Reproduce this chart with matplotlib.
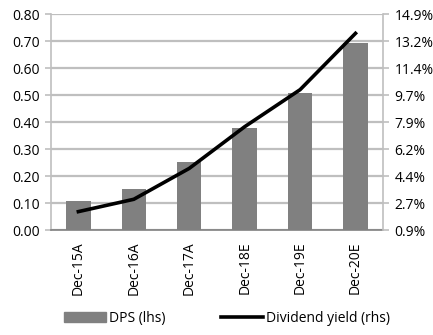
import numpy as np
import matplotlib
matplotlib.use("Agg")
import matplotlib.pyplot as plt
from matplotlib.lines import Line2D
from matplotlib.patches import Patch

plt.rcParams['font.family'] = ['Open Sans', 'DejaVu Sans']

# DPS (lhs) and dividend yield (rhs), by year
years = ['Dec-15A', 'Dec-16A', 'Dec-17A', 'Dec-18E', 'Dec-19E', 'Dec-20E']
dps = [0.108, 0.153, 0.253, 0.380, 0.508, 0.694]
div_yield = [2.1, 2.9, 4.9, 7.6, 10.0, 13.65]

left_ticks = [0.0, 0.1, 0.2, 0.3, 0.4, 0.5, 0.6, 0.7, 0.8]
right_ticks = [0.9, 2.65, 4.4, 6.15, 7.9, 9.65, 11.4, 13.15, 14.9]
right_labels = ['0.9%', '2.7%', '4.4%', '6.2%', '7.9%', '9.7%', '11.4%', '13.2%', '14.9%']

grey = '#808080'
grid_col = '#bfbfbf'

fig = plt.figure(figsize=(4.33, 3.35), dpi=100)
ax = fig.add_axes([0.117, 0.313, 0.768, 0.645])
x = np.arange(len(years))

ax.bar(x, dps, width=0.44, color=grey, zorder=2)
ax.set_ylim(0, 0.8)
ax.set_xlim(-0.5, len(years) - 0.5)
ax.set_yticks(left_ticks)
ax.set_yticklabels(['%.2f' % t for t in left_ticks])
ax.yaxis.grid(True, color=grid_col, linewidth=1.6, zorder=0)
ax.set_axisbelow(True)
ax.set_xticks(x)
ax.set_xticklabels(years, rotation=90)
ax.tick_params(axis='x', length=0, pad=8, labelsize=10)
ax.tick_params(axis='y', length=4, color=grid_col, width=1.2, labelsize=10, pad=4)

for s in ['top', 'right']:
    ax.spines[s].set_visible(False)
ax.spines['left'].set_color(grid_col)
ax.spines['left'].set_linewidth(1.2)
ax.spines['bottom'].set_color(grey)
ax.spines['bottom'].set_linewidth(1.2)

ax2 = ax.twinx()
ax2.plot(x, div_yield, color='black', linewidth=2.6, zorder=3)
ax2.set_ylim(0.9, 14.9)
ax2.set_yticks(right_ticks)
ax2.set_yticklabels(right_labels)
ax2.tick_params(axis='y', length=4, color=grid_col, width=1.2, labelsize=10, pad=4)
for s in ['top', 'left', 'bottom']:
    ax2.spines[s].set_visible(False)
ax2.spines['right'].set_color(grid_col)
ax2.spines['right'].set_linewidth(1.2)

handles = [Patch(color=grey), Line2D([0], [0], color='black', linewidth=2.6)]
fig.legend(handles, ['DPS (lhs)', 'Dividend yield (rhs)'], loc='lower center',
           bbox_to_anchor=(0.525, -0.01), ncol=2, frameon=False, fontsize=10,
           handlelength=3.0, handletextpad=0.25, columnspacing=4.0)

fig.savefig('out.png', dpi=100)
